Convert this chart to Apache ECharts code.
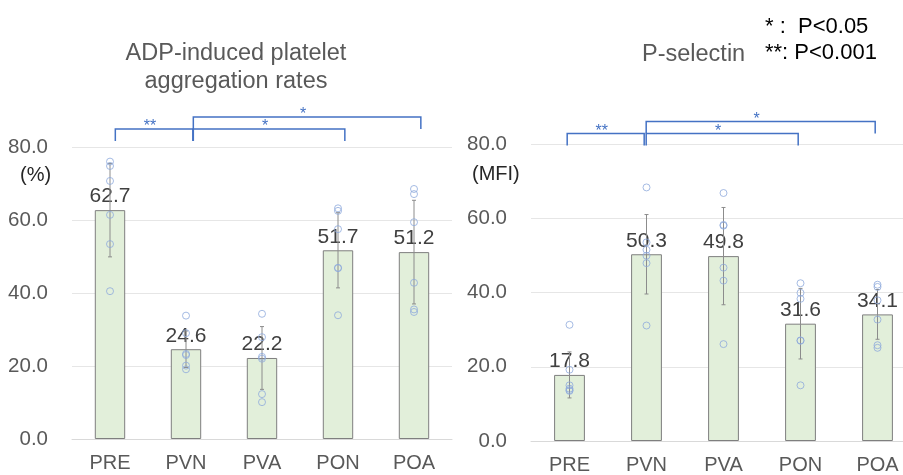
<!DOCTYPE html>
<html>
<head>
<meta charset="utf-8">
<script src="https://cdn.jsdelivr.net/npm/echarts@6/dist/echarts.min.js"></script>
<style>
  html, body { margin: 0; padding: 0; background: #fff; overflow: hidden; }
  /* the reference crops the right chart at the edge, so the canvas runs wider than the window */
  #chart { width: 930px; height: 475px; }
</style>
</head>
<body>
<div id="chart"></div>
<script>
const categories = ['PRE', 'PVN', 'PVA', 'PON', 'POA'];

// ADP-induced platelet aggregation rates (%)
const adpMean = [62.7, 24.6, 22.2, 51.7, 51.2];
const adpSd = [12.8, 5.0, 8.6, 10.3, 14.2];
const adpPoints = [
  [76.0, 74.8, 70.7, 61.4, 53.4, 40.5],
  [33.8, 29.0, 23.3, 23.0, 20.1, 19.1],
  [34.3, 27.9, 22.5, 22.0, 12.3, 10.1],
  [63.2, 62.5, 57.5, 46.9, 46.8, 33.9],
  [68.5, 67.1, 59.4, 42.8, 35.5, 34.8]
];

// P-selectin (MFI)
const pselMean = [17.8, 50.3, 49.8, 31.6, 34.1];
const pselSd = [6.2, 10.7, 13.1, 9.5, 6.7];
const pselPoints = [
  [31.3, 19.2, 15.0, 14.1, 13.7, 13.5],
  [68.3, 53.5, 51.5, 49.9, 47.9, 31.1],
  [66.8, 58.2, 58.0, 46.7, 43.2, 26.1],
  [42.5, 39.9, 38.3, 27.1, 27.0, 15.0],
  [42.1, 41.5, 37.9, 32.7, 25.8, 25.1]
];

// significance brackets: [from, to, mark, level]
const sigPairs = [
  [0, 1, '**', 0],
  [1, 3, '*', 0],
  [1, 4, '*', 1]
];

const yTicks = [0, 20, 40, 60, 80];

const font = 'Liberation Sans, Arial, sans-serif';
const chart = echarts.init(document.getElementById('chart'));

function pointsData(points) {
  let out = [];
  points.forEach((list, i) => {
    list.forEach(v => out.push([i, v]));
  });
  return out;
}

function errorSeries(idx, mean, sd) {
  return {
    type: 'custom',
    xAxisIndex: idx,
    yAxisIndex: idx,
    z: 4,
    data: mean.map((m, i) => [i, m, sd[i]]),
    encode: { x: 0, y: 1 },
    renderItem(params, api) {
      let i = api.value(0), m = api.value(1), s = api.value(2);
      let hi = api.coord([i, m + s]);
      let lo = api.coord([i, m - s]);
      let st = { stroke: '#8c8c8c', lineWidth: 1 };
      return {
        type: 'group',
        children: [
          { type: 'line', shape: { x1: hi[0], y1: hi[1], x2: lo[0], y2: lo[1] }, style: st },
          { type: 'line', shape: { x1: hi[0] - 2, y1: hi[1], x2: hi[0] + 2, y2: hi[1] }, style: st },
          { type: 'line', shape: { x1: lo[0] - 2, y1: lo[1], x2: lo[0] + 2, y2: lo[1] }, style: st }
        ]
      };
    }
  };
}

// base: px above grid top for level 0, nudges in category widths
function bracketSeries(idx, base, startNudge, endNudge) {
  return {
    type: 'custom',
    xAxisIndex: idx,
    yAxisIndex: idx,
    z: 5,
    clip: false,
    data: sigPairs.map(p => [p[0], p[1]]),
    encode: { x: 0, y: 1 },
    renderItem(params, api) {
      let p = sigPairs[params.dataIndex];
      let w = api.size([1, 0])[0];
      let top = api.coord([0, 80])[1];
      let x1 = api.coord([p[0], 0])[0] + startNudge * w + (p[0] > 0 ? 2 : 0);
      let x2 = api.coord([p[1], 0])[0] + endNudge * w;
      let y = top - base - p[3] * 12;
      let yEnd = y + 12;
      let st = { stroke: '#4472c4', lineWidth: 1.5, fill: null };
      return {
        type: 'group',
        children: [
          { type: 'polyline', shape: { points: [[x1, yEnd], [x1, y], [x2, y], [x2, yEnd]] }, style: st },
          {
            type: 'text',
            style: {
              text: p[2], x: (x1 + x2) / 2 - 4, y: y + 6, align: 'center', verticalAlign: 'bottom',
              fill: '#4472c4', font: '16px ' + font
            }
          }
        ]
      };
    }
  };
}

function axisPair(idx) {
  return {
    x: {
      type: 'category',
      gridIndex: idx,
      data: categories,
      axisTick: { show: false },
      axisLine: { lineStyle: { color: '#d9d9d9' } },
      axisLabel: { color: '#595959', fontSize: 20, fontFamily: font, margin: 14 }
    },
    y: {
      type: 'value',
      gridIndex: idx,
      min: yTicks[0],
      max: yTicks[yTicks.length - 1],
      interval: 20,
      axisLine: { show: false },
      axisTick: { show: false },
      splitLine: { lineStyle: { color: '#e6e6e6' } },
      axisLabel: { color: '#595959', fontSize: 20.5, fontFamily: font, margin: 24, formatter: v => v.toFixed(1) }
    }
  };
}

let a0 = axisPair(0), a1 = axisPair(1);

function barSeries(idx, mean) {
  return {
    type: 'bar',
    xAxisIndex: idx,
    yAxisIndex: idx,
    data: mean,
    barWidth: '40%',
    z: 2,
    itemStyle: { color: '#e2efda', borderColor: '#7f7f7f', borderWidth: 1 },
    label: {
      show: true, position: 'top', distance: 3,
      color: '#404040', fontSize: 21, fontFamily: font,
      formatter: p => p.value.toFixed(1)
    }
  };
}

function scatterSeries(idx, points) {
  return {
    type: 'scatter',
    xAxisIndex: idx,
    yAxisIndex: idx,
    data: pointsData(points),
    symbol: 'circle',
    symbolSize: 7,
    z: 6,
    itemStyle: { color: 'rgba(0,0,0,0)', borderColor: '#8faadc', borderWidth: 1 }
  };
}

let option = {
  animation: false,
  title: [
    {
      text: 'ADP-induced platelet\naggregation rates',
      left: 231, top: 35, textAlign: 'center',
      textStyle: { fontSize: 23.5, fontWeight: 'normal', color: '#595959', lineHeight: 28, fontFamily: font }
    },
    {
      text: 'P-selectin',
      left: 637, top: 36,
      textStyle: { fontSize: 23.5, fontWeight: 'normal', color: '#595959', lineHeight: 28, fontFamily: font }
    },
    {
      text: '* :  P<0.05\n**: P<0.001',
      left: 760, top: 9,
      textStyle: { fontSize: 22, fontWeight: 'normal', color: '#000', lineHeight: 26, fontFamily: font }
    }
  ],
  graphic: [
    { type: 'text', left: 20, top: 165, style: { text: '(%)', fill: '#262626', font: '20px ' + font } },
    { type: 'text', left: 472, top: 164, style: { text: '(MFI)', fill: '#262626', font: '20px ' + font } }
  ],
  grid: [
    { left: 72, width: 380, top: 147, bottom: 36 },
    { left: 531, width: 385, top: 144, bottom: 33 }
  ],
  xAxis: [a0.x, a1.x],
  yAxis: [a0.y, a1.y],
  series: [
    barSeries(0, adpMean),
    errorSeries(0, adpMean, adpSd),
    scatterSeries(0, adpPoints),
    bracketSeries(0, 18, 0.07, 0.09),
    barSeries(1, pselMean),
    errorSeries(1, pselMean, pselSd),
    scatterSeries(1, pselPoints),
    bracketSeries(1, 10.5, -0.03, -0.03)
  ]
};

chart.setOption(option);
</script>
</body>
</html>
